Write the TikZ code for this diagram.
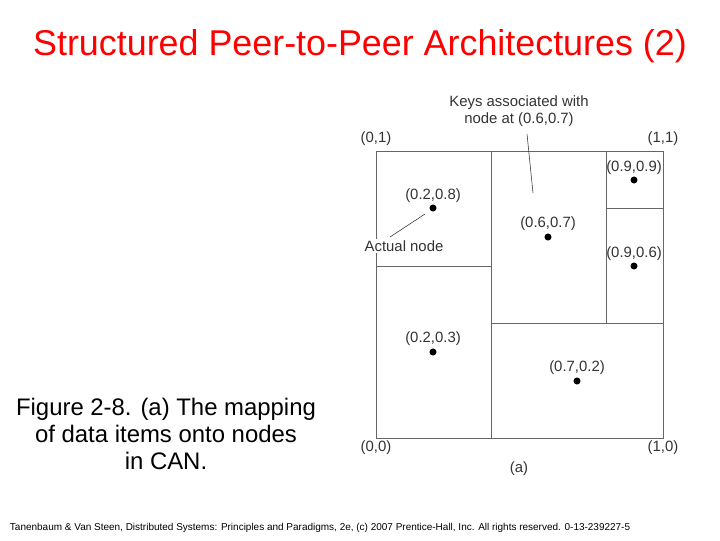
\documentclass[tikz,border=0pt]{standalone}
\usepackage{fontspec}
\setmainfont{Liberation Sans}
\usetikzlibrary{positioning}

\begin{document}
\begin{tikzpicture}[x=0.025cm,y=-0.025cm]
\tikzset{dot/.style={circle, fill, minimum width=5pt, inner sep=0pt},
  lbl/.style={font=\fontsize{10.6}{12.5}\selectfont, text=black!80, inner sep=1pt},
  zone/.style={draw=black!60, line width=0.5pt}}
\useasboundingbox (0,0) rectangle (720,540);
\node[text=red, font=\fontsize{25.5}{28}\selectfont] (title) at (360,46) {Structured Peer-to-Peer Architectures (2)};
\node[align=center, font=\fontsize{17}{19.5}\selectfont] (cap) at (166,434) {Figure 2-8. (a) The mapping\\of data items onto nodes\\in CAN.};
\node[anchor=west, font=\fontsize{7.1}{8}\selectfont] (foot) at (5,528) {Tanenbaum \& Van Steen, Distributed Systems: Principles and Paradigms, 2e, (c) 2007 Prentice-Hall, Inc. All rights reserved. 0-13-239227-5};
% the unit square and its zones
\draw[zone] (376,151) rectangle (663,438);
\draw[zone] (491,151) -- (491,438);
\draw[zone] (376,266) -- (491,266);
\draw[zone] (491,323) -- (663,323);
\draw[zone] (606,151) -- (606,323);
\draw[zone] (606,208) -- (663,208);
% corners
\node[lbl] (c00) at (376,448) {(0,0)};
\node[lbl] (c01) at (376,139) {(0,1)};
\node[lbl] (c11) at (663,139) {(1,1)};
\node[lbl] (c10) at (663,448) {(1,0)};
\node[lbl] (sub) at (519,469) {(a)};
% nodes
\node[dot] (n1) at (433,208) {};
\node[lbl, above=0pt of n1] {(0.2,0.8)};
\node[dot] (n2) at (548,237) {};
\node[lbl, above=1pt of n2] {(0.6,0.7)};
\node[dot] (n3) at (634,180) {};
\node[lbl, above=0pt of n3] {(0.9,0.9)};
\node[dot] (n4) at (634,266) {};
\node[lbl, above=0pt of n4] {(0.9,0.6)};
\node[dot] (n5) at (433,352) {};
\node[lbl, above=1pt of n5] {(0.2,0.3)};
\node[dot] (n6) at (577,381) {};
\node[lbl, above=1pt of n6] {(0.7,0.2)};
% annotations
\node[lbl, align=center, fill=white] (keys) at (519,111) {Keys associated with\\node at (0.6,0.7)};
\coordinate (kend) at (533,193);
\draw[black!80] (kend) -- (527,134);
\node[lbl, fill=white] (act) at (404,246) {Actual node};
\draw[black!80] (390,237) -- (425,214);
\end{tikzpicture}
\end{document}
